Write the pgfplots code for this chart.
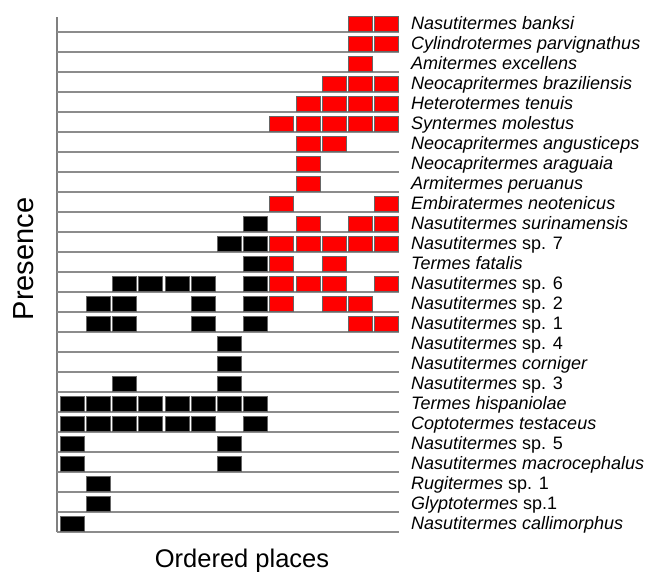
\documentclass[border=0pt]{standalone}
\usepackage{pgfplots}
\pgfplotsset{compat=1.18}
\usepackage{fontspec}
\setmainfont{Liberation Sans}
\pgfdeclareplotmark{cell}{%
  \pgfpathrectangle{\pgfpoint{-12bp}{-7.5bp}}{\pgfpoint{24bp}{15bp}}%
  \pgfusepathqfillstroke}
\begin{document}
\begin{tikzpicture}
\begin{axis}[
  scale only axis,
  width=342bp, height=515.3bp,
  xmin=0.428, xmax=13.47,
  ymin=0.575, ymax=26.34,
  clip=false,
  axis line style={draw=none},
  xtick=\empty,
  extra x ticks={0.428},
  extra x tick labels={},
  extra x tick style={grid=major, major grid style={black!50, line width=1.1bp}, major tick length=0pt},
  ytick={1,...,26},
  yticklabel pos=right,
  major tick length=0pt,
  yticklabels={
    {\textit{Nasutitermes callimorphus}},
    {\textit{Glyptotermes} sp.1},
    {\textit{Rugitermes} sp. 1},
    {\textit{Nasutitermes macrocephalus}},
    {\textit{Nasutitermes} sp. 5},
    {\textit{Coptotermes testaceus}},
    {\textit{Termes hispaniolae}},
    {\textit{Nasutitermes} sp. 3},
    {\textit{Nasutitermes corniger}},
    {\textit{Nasutitermes} sp. 4},
    {\textit{Nasutitermes} sp. 1},
    {\textit{Nasutitermes} sp. 2},
    {\textit{Nasutitermes} sp. 6},
    {\textit{Termes fatalis}},
    {\textit{Nasutitermes} sp. 7},
    {\textit{Nasutitermes surinamensis}},
    {\textit{Embiratermes neotenicus}},
    {\textit{Armitermes peruanus}},
    {\textit{Neocapritermes araguaia}},
    {\textit{Neocapritermes angusticeps}},
    {\textit{Syntermes molestus}},
    {\textit{Heterotermes tenuis}},
    {\textit{Neocapritermes braziliensis}},
    {\textit{Amitermes excellens}},
    {\textit{Cylindrotermes parvignathus}},
    {\textit{Nasutitermes banksi}}},
  yticklabel style={font=\fontsize{18bp}{20bp}\selectfont, anchor=west, inner sep=0pt,
    text height=12.9bp, text depth=0pt, xshift=12bp},
  extra y ticks={0.575,1.575,2.575,3.575,4.575,5.575,6.575,7.575,8.575,9.575,10.575,11.575,12.575,13.575,14.575,15.575,16.575,17.575,18.575,19.575,20.575,21.575,22.575,23.575,24.575,25.575},
  extra y tick labels={},
  extra y tick style={grid=major, major grid style={black!45, line width=1.1bp}, major tick length=0pt},
  xlabel={Ordered places},
  xlabel style={font=\fontsize{25.5bp}{28bp}\selectfont, anchor=base, at={(axis description cs:0.541,0)}, yshift=-35bp},
  ylabel={Presence},
  ylabel style={font=\fontsize{29bp}{32bp}\selectfont, anchor=base, rotate=0, at={(axis description cs:-0.069,0.53)}},
]
\addplot[only marks, mark=cell, mark options={fill=black, draw=black!60, line width=0.7bp}] table {
x y
8 16
7 15
8 15
8 14
3 13
4 13
5 13
6 13
8 13
2 12
3 12
6 12
8 12
2 11
3 11
6 11
8 11
7 10
7 9
3 8
7 8
1 7
2 7
3 7
4 7
5 7
6 7
7 7
8 7
1 6
2 6
3 6
4 6
5 6
6 6
8 6
1 5
7 5
1 4
7 4
2 3
2 2
1 1
};
\addplot[only marks, mark=cell, mark options={fill=red, draw=black!60, line width=0.7bp}] table {
x y
12 26
13 26
12 25
13 25
12 24
11 23
12 23
13 23
10 22
11 22
12 22
13 22
9 21
10 21
11 21
12 21
13 21
10 20
11 20
10 19
10 18
9 17
13 17
10 16
12 16
13 16
9 15
10 15
11 15
12 15
13 15
9 14
11 14
9 13
10 13
11 13
13 13
9 12
11 12
12 12
12 11
13 11
};
\end{axis}
\pgfresetboundingbox
\path (-57bp,-40bp) rectangle (590bp,532bp);
\end{tikzpicture}
\end{document}
